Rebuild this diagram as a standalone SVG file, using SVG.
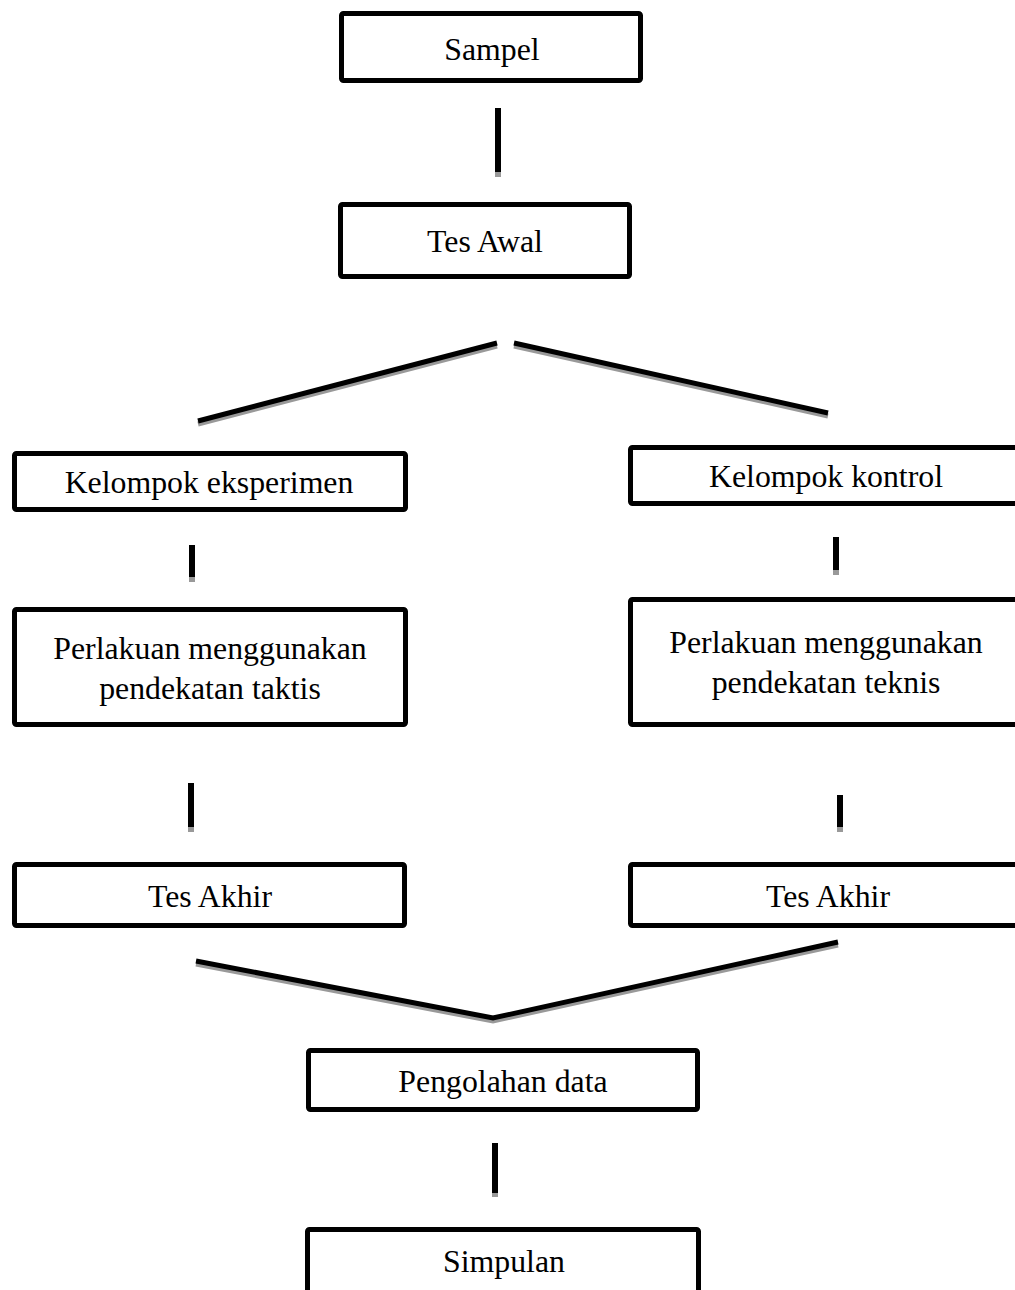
<svg xmlns="http://www.w3.org/2000/svg" width="1015" height="1290" viewBox="0 0 1015 1290">
<style>
.box{fill:#fff;stroke:#000;stroke-width:5;stroke-linejoin:round}
.t{font-family:"Liberation Serif","Times New Roman",serif;font-size:31.8px;fill:#000;text-anchor:middle}
.ln{stroke:#000;stroke-width:5;fill:none}
.sh{stroke:#999;stroke-width:5;fill:none}
.v{fill:#000}
.vs{fill:#999}
</style>
<rect width="1015" height="1290" fill="#fff"/>
<g id="connectors">
  <rect class="v" x="495" y="108" width="6" height="64"/><rect class="vs" x="495" y="172" width="6" height="5"/>
  <line class="sh" x1="198" y1="424" x2="497" y2="346"/><line class="ln" x1="198" y1="421" x2="497" y2="343"/>
  <line class="sh" x1="514" y1="346" x2="828" y2="416"/><line class="ln" x1="514" y1="343" x2="828" y2="413"/>
  <rect class="v" x="189" y="545" width="6" height="32"/><rect class="vs" x="189" y="577" width="6" height="5"/>
  <rect class="v" x="833" y="537" width="6" height="33"/><rect class="vs" x="833" y="570" width="6" height="5"/>
  <rect class="v" x="188" y="783" width="6" height="44"/><rect class="vs" x="188" y="827" width="6" height="5"/>
  <rect class="v" x="837" y="795" width="6" height="32"/><rect class="vs" x="837" y="827" width="6" height="5"/>
  <polyline class="sh" points="196,964 493,1021 838,945"/><polyline class="ln" points="196,961 493,1018 838,942"/>
  <rect class="v" x="492" y="1143" width="6" height="50"/><rect class="vs" x="492" y="1193" width="6" height="4"/>
</g>
<g id="sampel"><rect class="box" x="341.5" y="13.5" width="299" height="67" rx="2"/><text class="t" x="492" y="60">Sampel</text></g>
<g id="tes-awal"><rect class="box" x="340.5" y="204.5" width="289" height="72" rx="2"/><text class="t" x="485" y="252">Tes Awal</text></g>
<g id="kelompok-eksperimen"><rect class="box" x="14.5" y="453.5" width="391" height="56" rx="2"/><text class="t" x="209" y="493">Kelompok eksperimen</text></g>
<g id="kelompok-kontrol"><rect class="box" x="630.5" y="447.5" width="400" height="56" rx="2"/><text class="t" x="826" y="487">Kelompok kontrol</text></g>
<g id="perlakuan-taktis"><rect class="box" x="14.5" y="609.5" width="391" height="115" rx="2"/><text class="t" x="210" y="659">Perlakuan menggunakan</text><text class="t" x="210" y="699">pendekatan taktis</text></g>
<g id="perlakuan-teknis"><rect class="box" x="630.5" y="599.5" width="400" height="125" rx="2"/><text class="t" x="826" y="653">Perlakuan menggunakan</text><text class="t" x="826" y="693">pendekatan teknis</text></g>
<g id="tes-akhir-1"><rect class="box" x="14.5" y="864.5" width="390" height="61" rx="2"/><text class="t" x="210" y="907">Tes Akhir</text></g>
<g id="tes-akhir-2"><rect class="box" x="630.5" y="864.5" width="400" height="61" rx="2"/><text class="t" x="828" y="907">Tes Akhir</text></g>
<g id="pengolahan-data"><rect class="box" x="308.5" y="1050.5" width="389" height="59" rx="2"/><text class="t" x="503" y="1092">Pengolahan data</text></g>
<g id="simpulan"><rect class="box" x="307.5" y="1229.5" width="391" height="80" rx="2"/><text class="t" x="504" y="1272">Simpulan</text></g>
</svg>
